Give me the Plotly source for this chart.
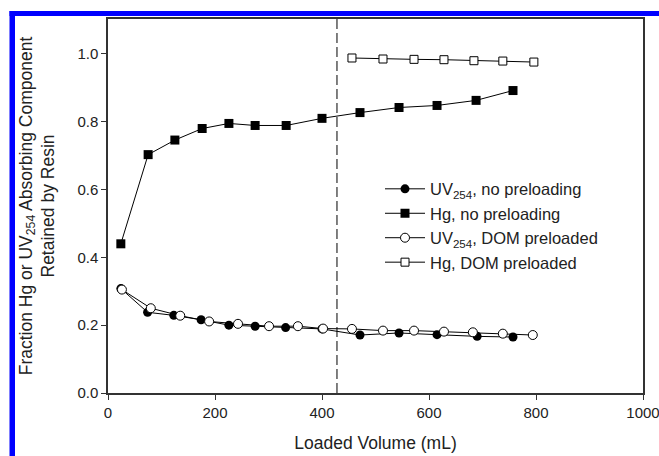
import plotly.graph_objects as go

# Data
uv_no_x = [24, 74, 123, 174, 226, 275, 332, 400, 471, 544, 615, 690, 757]
uv_no_y = [0.308, 0.238, 0.229, 0.216, 0.200, 0.197, 0.193, 0.189, 0.171, 0.177, 0.172, 0.167, 0.165]

hg_no_x = [24, 75, 125, 176, 226, 275, 333, 400, 471, 544, 615, 688, 757]
hg_no_y = [0.440, 0.703, 0.746, 0.780, 0.795, 0.789, 0.789, 0.810, 0.827, 0.842, 0.848, 0.863, 0.892]

uv_dom_x = [26, 80, 135, 189, 243, 301, 355, 402, 456, 514, 572, 628, 682, 738, 794]
uv_dom_y = [0.305, 0.250, 0.228, 0.211, 0.204, 0.197, 0.197, 0.190, 0.189, 0.184, 0.184, 0.181, 0.179, 0.175, 0.171]

hg_dom_x = [456, 514, 572, 628, 684, 738, 796]
hg_dom_y = [0.988, 0.985, 0.984, 0.983, 0.980, 0.979, 0.976]

dashed_x = 428

x_ticks = [0, 200, 400, 600, 800, 1000]
y_ticks = [0.0, 0.2, 0.4, 0.6, 0.8, 1.0]

FONT = "Liberation Sans, Arial, sans-serif"

fig = go.Figure()
fig.add_trace(go.Scatter(x=uv_no_x, y=uv_no_y, mode="lines+markers",
                         name="UV<sub>254</sub>, no preloading",
                         line=dict(color="black", width=1),
                         marker=dict(symbol="circle", size=9, color="black")))
fig.add_trace(go.Scatter(x=hg_no_x, y=hg_no_y, mode="lines+markers",
                         name="Hg, no preloading",
                         line=dict(color="black", width=1),
                         marker=dict(symbol="square", size=9, color="black")))
fig.add_trace(go.Scatter(x=uv_dom_x, y=uv_dom_y, mode="lines+markers",
                         name="UV<sub>254</sub>, DOM preloaded",
                         line=dict(color="black", width=1),
                         marker=dict(symbol="circle", size=9, color="white",
                                     line=dict(color="black", width=1))))
fig.add_trace(go.Scatter(x=hg_dom_x, y=hg_dom_y, mode="lines+markers",
                         name="Hg, DOM preloaded",
                         line=dict(color="black", width=1),
                         marker=dict(symbol="square", size=8, color="white",
                                     line=dict(color="black", width=1))))

# dashed vertical line
fig.add_shape(type="line", xref="x", yref="paper", x0=dashed_x, x1=dashed_x, y0=0, y1=1,
              line=dict(color="black", width=1, dash="10px,4px"))

# blue frame (top and left) of the figure
L, R, T, B = 108, 643, 19, 393
W = R - L
H = B - T
def px(xp):
    return (xp - L) / W
def py(yp):
    return (B - yp) / H
fig.add_shape(type="rect", xref="paper", yref="paper", x0=px(9.5), x1=px(662),
              y0=py(16), y1=py(11), fillcolor="#0000ff", line=dict(width=0), layer="above")
fig.add_shape(type="rect", xref="paper", yref="paper", x0=px(9.5), x1=px(15),
              y0=py(460), y1=py(11), fillcolor="#0000ff", line=dict(width=0), layer="above")

fig.update_layout(
    width=659, height=456,
    margin=dict(l=L, r=659 - R, t=T, b=456 - B, autoexpand=False),
    paper_bgcolor="white", plot_bgcolor="white",
    font=dict(family=FONT, size=15, color="#222222"),
    showlegend=True,
    legend=dict(x=px(380), y=0.592, xanchor="left", yanchor="top",
                bgcolor="rgba(0,0,0,0)", font=dict(size=16.5, color="#222222"),
                tracegroupgap=0, itemwidth=40),
    xaxis=dict(range=[0, 1000], tickvals=x_ticks, ticktext=[str(v) for v in x_ticks],
               showgrid=False, zeroline=False, showline=True, linecolor="#333333", linewidth=1.5,
               mirror=True, ticks="outside", ticklen=5, tickcolor="#333333",
               ticklabeloverflow="allow", automargin=False,
               title=dict(text="Loaded Volume (mL)", font=dict(size=17.5), standoff=17)),
    yaxis=dict(range=[0, 1.103], tickvals=y_ticks, ticktext=[f"{v:.1f}" for v in y_ticks],
               showgrid=False, zeroline=False, showline=True, linecolor="#333333", linewidth=1.5,
               mirror=True, ticks="outside", ticklen=5, tickcolor="#333333", automargin=False,
               title=dict(text="Fraction Hg or UV<sub>254</sub> Absorbing Component<br>Retained by Resin",
                          font=dict(size=17.5), standoff=18)),
)

fig.write_html("out.html", config={"displayModeBar": False},
               post_script="document.body.style.margin='0';document.body.style.overflow='hidden';")
